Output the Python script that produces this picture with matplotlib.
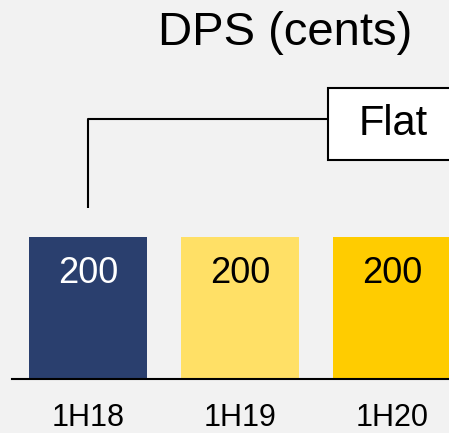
import matplotlib.pyplot as plt
from matplotlib.patches import Rectangle

plt.rcParams['font.family'] = ['Liberation Sans', 'DejaVu Sans']

# data
periods = ['1H18', '1H19', '1H20']
dps = [200, 200, 200]
colors = ['#2A3F6E', '#FFE066', '#FFCC00']
label_colors = ['white', 'black', 'black']
note = 'Flat'

bg = '#F2F2F2'
fig = plt.figure(figsize=(4.49, 4.33), dpi=100, facecolor=bg)
ax = fig.add_axes([0, 0, 1, 1], facecolor=bg)

x = range(len(periods))
ax.bar(x, dps, width=0.776, color=colors, zorder=2)

# pixel -> data mapping: bar center spacing 152 px, 0.71 px per cent
ax.set_xlim(-0.579, 2.375)
ax.set_ylim(-76, 534)
ax.axhline(0, xmin=12 / 449, xmax=1, color='black', lw=1.5, zorder=3)

for i, v in enumerate(dps):
    ax.text(i, v - 64, str(v), ha='center', va='baseline', fontsize=26,
            color=label_colors[i])
    ax.text(i, -66, periods[i], ha='center', va='baseline', fontsize=22,
            color='black')

# bracket from first bar to the note box
top = dps[0] + 166
ax.plot([0, 0, 1.58], [dps[0] + 41, top, top], color='black', lw=1.5,
        solid_capstyle='butt', zorder=3)
ax.add_patch(Rectangle((1.58, top - 58), 1.0, 102, facecolor='white',
                       edgecolor='black', lw=1.5, zorder=3))
ax.text(2.01, top - 7, note, ha='center', va='center', fontsize=30, zorder=4)

fig.text(285 / 449, 1 - 45 / 433, 'DPS (cents)', ha='center', va='baseline',
         fontsize=34)

ax.axis('off')
fig.savefig('out.png', dpi=100, facecolor=bg)
